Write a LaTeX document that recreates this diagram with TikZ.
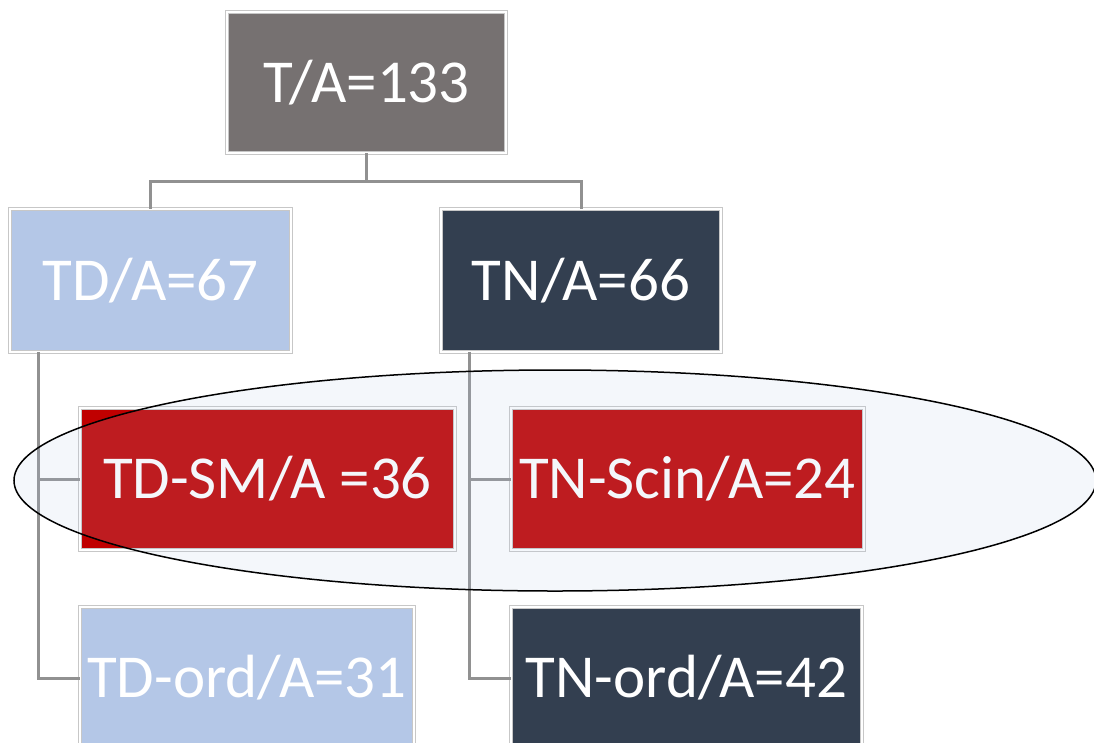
\documentclass[tikz,border=0pt]{standalone}
\usepackage{fontspec}
\setmainfont{Carlito}
\usetikzlibrary{shapes.geometric}
\definecolor{rootgray}{RGB}{118,113,113}
\definecolor{lightblue}{RGB}{180,199,231}
\definecolor{navy}{RGB}{51,63,80}
\definecolor{boxred}{RGB}{192,0,0}
\definecolor{conngray}{RGB}{145,145,145}
\definecolor{ovalfill}{RGB}{180,199,231}
\begin{document}
\begin{tikzpicture}[x=1pt,y=-1pt,
  box/.style={rectangle, inner sep=0pt, text=white,
    font=\fontsize{61}{62}\selectfont,
    draw=black!22, double=white, double distance=2pt, line width=0.6pt},
  conn/.style={draw=conngray, line width=3pt},
  oval/.style={ellipse, draw=black, line width=1.5pt, fill=ovalfill, fill opacity=0.14, inner sep=0pt}
]
\clip (0,0) rectangle (1094,742);
\useasboundingbox (0,0) rectangle (1094,742);
\fill[white] (0,0) rectangle (1094,742);

\coordinate (j) at (366.5,181);
\coordinate (tdl) at (38,352);
\coordinate (tnl) at (469,352);

\node[box, fill=rootgray, minimum width=279pt, minimum height=141pt] (root) at (366.5,82.5) {T/A=133};
\node[box, fill=lightblue, minimum width=281pt, minimum height=143pt] (td) at (150.5,280.5) {TD/A=67};
\node[box, fill=navy, minimum width=280pt, minimum height=143pt] (tn) at (581,280.5) {TN/A=66};
\node[box, fill=boxred, minimum width=375pt, minimum height=142pt] (tdsm) at (267.5,479) {TD-SM/A =36};
\node[box, fill=boxred, minimum width=353pt, minimum height=142pt] (tnscin) at (687.5,479) {TN-Scin/A=24};
\node[box, fill=lightblue, minimum width=334pt, minimum height=142pt] (tdord) at (247,678) {TD-ord/A=31};
\node[box, fill=navy, minimum width=351pt, minimum height=142pt] (tnord) at (686.5,678) {TN-ord/A=42};

\draw[conn] (root.south) -- (j);
\draw[conn] (td.north) |- (j) -| (tn.north);
\draw[conn] (tdl) |- (tdsm.west);
\draw[conn] (tdl) |- (tdord.west);
\draw[conn] (tnl) |- (tnscin.west);
\draw[conn] (tnl) |- (tnord.west);

\node[oval, minimum width=1082pt, minimum height=221pt] (hl) at (555,480.5) {};
\end{tikzpicture}
\end{document}
